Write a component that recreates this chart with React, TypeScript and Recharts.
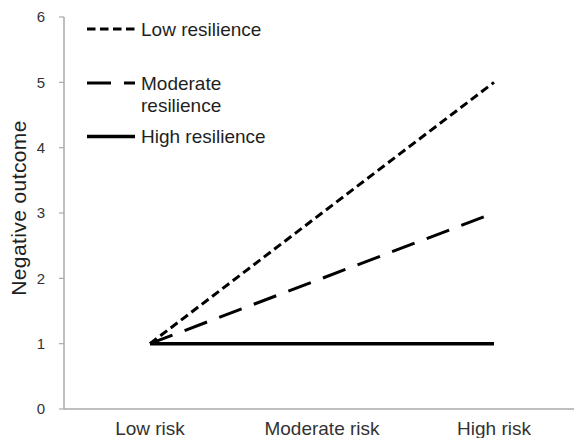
import { LineChart, Line, XAxis, YAxis } from "recharts";

const categories = ["Low risk", "Moderate risk", "High risk"];
const lowResilience = [1, 3, 5];
const moderateResilience = [1, 2, 3];
const highResilience = [1, 1, 1];
const yTicks = [0, 1, 2, 3, 4, 5, 6];

const data = categories.map((risk, i) => ({
  risk,
  low: lowResilience[i],
  moderate: moderateResilience[i],
  high: highResilience[i],
}));

const series = [
  { key: "low", label: ["Low resilience"], dash: "8.5 4.5", width: 3 },
  { key: "moderate", label: ["Moderate", "resilience"], dash: "24 13", width: 3 },
  { key: "high", label: ["High resilience"], dash: undefined, width: 3.5 },
];

const FONT = "'Liberation Sans', Arial, sans-serif";

// legend sits inside the plot, top left
function LegendBox() {
  const rowY = [14, 68, 121.5];
  return (
    <svg
      width={220}
      height={140}
      style={{ position: "absolute", left: 80, top: 15, overflow: "visible" }}
    >
      {series.map((s, i) => (
        <g key={s.key}>
          <line
            x1={7}
            x2={55}
            y1={rowY[i]}
            y2={rowY[i]}
            stroke="#000"
            strokeWidth={s.width}
            strokeDasharray={s.dash}
          />
          {s.label.map((t, j) => (
            <text
              key={t}
              x={61}
              y={rowY[i] + j * 22}
              dy="0.35em"
              fontFamily={FONT}
              fontSize={19}
              fill="#1f1f1f"
            >
              {t}
            </text>
          ))}
        </g>
      ))}
    </svg>
  );
}

export default function App() {
  return (
    <div
      style={{
        position: "absolute",
        left: 0,
        top: 0,
        width: 574,
        height: 438,
        overflow: "hidden",
        background: "#fff",
      }}
    >
      <LineChart
        width={580}
        height={445}
        data={data}
        margin={{ top: 17, right: 0, bottom: 0, left: 0 }}
      >
        <XAxis
          dataKey="risk"
          height={36}
          padding={{ left: 86, right: 86 }}
          tickLine={false}
          tickSize={0}
          tickMargin={13}
          axisLine={{ stroke: "#aaaaaa", strokeWidth: 1.5 }}
          tick={{ fontSize: 19, fontFamily: FONT, fill: "#333" }}
        />
        <YAxis
          width={64}
          domain={[0, 6]}
          ticks={yTicks}
          interval={0}
          tickSize={5}
          tickMargin={14}
          axisLine={{ stroke: "#aaaaaa", strokeWidth: 1.5 }}
          tickLine={{ stroke: "#aaaaaa", strokeWidth: 1.2 }}
          tick={{ fontSize: 15, fontFamily: FONT, fill: "#333" }}
          label={{
            position: "insideLeft",
            content: () => (
              <text
                transform="translate(26,208) rotate(-90)"
                textAnchor="middle"
                fontFamily={FONT}
                fontSize={21}
                letterSpacing={0.4}
                fill="#1f1f1f"
              >
                Negative outcome
              </text>
            ),
          }}
        />
        {series.map((s) => (
          <Line
            key={s.key}
            dataKey={s.key}
            stroke="#000"
            strokeWidth={s.width}
            strokeDasharray={s.dash}
            dot={false}
            activeDot={false}
            isAnimationActive={false}
          />
        ))}
      </LineChart>
      <LegendBox />
    </div>
  );
}
